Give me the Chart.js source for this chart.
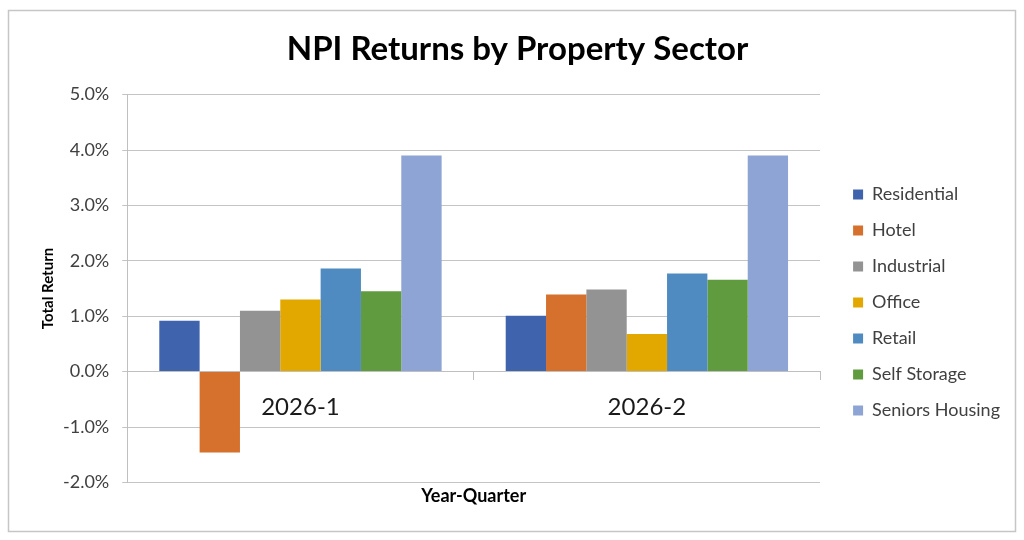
<!DOCTYPE html>
<html>
<head>
<meta charset="utf-8">
<script src="https://cdn.jsdelivr.net/npm/chart.js@4/dist/chart.umd.min.js"></script>
<style>
html,body{margin:0;padding:0;background:#fff;}
canvas{display:block;}
</style>
</head>
<body>
<canvas id="c" width="1024" height="540"></canvas>
<script>
const categories = ['2026-1', '2026-2'];
const sectors = ['Residential', 'Hotel', 'Industrial', 'Office', 'Retail', 'Self Storage', 'Seniors Housing'];
const residential = [0.92, 1.01];
const hotel = [-1.46, 1.39];
const industrial = [1.10, 1.48];
const office = [1.30, 0.68];
const retail = [1.86, 1.77];
const selfStorage = [1.45, 1.66];
const seniorsHousing = [3.90, 3.90];
const yTicks = [-2, -1, 0, 1, 2, 3, 4, 5];

const seriesValues = [residential, hotel, industrial, office, retail, selfStorage, seniorsHousing];
const colors = ['#3F63AD', '#D5702D', '#939393', '#E3A800', '#4F8BC0', '#619B3F', '#8DA4D4'];
const FONT = 'Lato, "Open Sans", sans-serif';

const frame = {
  id: 'frame',
  afterLayout(chart) {
    // centre the legend block vertically at the reference position
    const l = chart.legend;
    const shift = 302.5 - (l.top + l.bottom) / 2;
    l.top += shift;
    l.bottom += shift;
  },
  beforeDraw(chart) {
    const ctx = chart.ctx;
    ctx.save();
    ctx.fillStyle = '#fff';
    ctx.fillRect(0, 0, chart.width, chart.height);
    ctx.strokeStyle = '#c6c6c6';
    ctx.lineWidth = 1.5;
    ctx.strokeRect(8.5, 10.5, 1007, 521);
    ctx.restore();
  }
};

new Chart(document.getElementById('c'), {
  type: 'bar',
  data: {
    labels: categories,
    datasets: sectors.map((s, i) => ({
      label: s,
      data: seriesValues[i],
      backgroundColor: colors[i],
      borderWidth: 0,
      categoryPercentage: 0.815,
      barPercentage: 1.0
    }))
  },
  options: {
    responsive: false,
    animation: false,
    layout: { padding: { left: 25, right: 14, top: 12, bottom: 33 } },
    plugins: {
      title: {
        display: true,
        text: 'NPI Returns by Property Sector',
        font: { family: FONT, size: 33, weight: 'bold' },
        color: '#000',
        padding: { top: 18, bottom: 25 }
      },
      legend: {
        position: 'right',
        labels: {
          boxWidth: 10,
          boxHeight: 10,
          padding: 18,
          font: { family: FONT, size: 18 },
          color: '#404040'
        }
      },
      tooltip: { enabled: false }
    },
    scales: {
      x: {
        position: { y: 0 },
        offset: true,
        grid: { offset: true, drawOnChartArea: false, drawTicks: true, tickLength: 8, color: '#bfbfbf' },
        border: { color: '#bfbfbf' },
        ticks: { font: { family: FONT, size: 24 }, color: '#1a1a1a', padding: 13 }
      },
      x2: {
        type: 'category',
        labels: categories,
        position: 'bottom',
        grid: { display: false, drawTicks: false },
        border: { display: false },
        ticks: { display: false },
        title: {
          display: true,
          text: 'Year-Quarter',
          font: { family: FONT, size: 18, weight: 'bold' },
          color: '#000',
          padding: { top: 3, bottom: 0 }
        }
      },
      y: {
        min: yTicks[0],
        max: yTicks[yTicks.length - 1],
        afterBuildTicks(scale) { scale.ticks = yTicks.map(v => ({ value: v })); },
        ticks: {
          callback: v => v.toFixed(1) + '%',
          font: { family: FONT, size: 18 },
          color: '#404040',
          padding: 13
        },
        grid: { color: '#c4c4c4', tickLength: 5 },
        border: { color: '#bfbfbf' },
        title: {
          display: true,
          text: 'Total Return',
          font: { family: FONT, size: 15, weight: 'bold' },
          color: '#000',
          padding: { top: 14, bottom: -7 }
        }
      },
      ySpacer: {
        type: 'linear',
        position: 'right',
        display: false,
        afterFit(scale) { scale.width = 15; }
      }
    }
  },
  plugins: [frame]
});
</script>
</body>
</html>
